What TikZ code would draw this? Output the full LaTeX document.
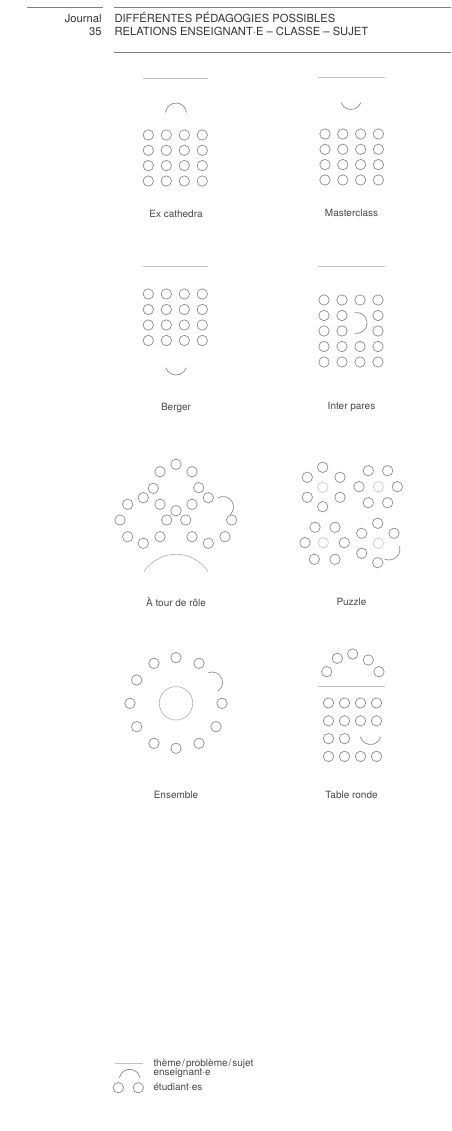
\documentclass[tikz,border=0pt]{standalone}
\usepackage{fontspec}
\setmainfont{TeX Gyre Heros}
\tikzset{
  stu/.style={draw=black!45, line width=0.7pt},
  stulight/.style={draw=black!20, line width=0.7pt},
  tch/.style={draw=black!45, line width=0.7pt},
  big/.style={draw=black!28, line width=0.7pt},
  topic/.style={draw=black!25, line width=0.8pt},
  rule/.style={draw=black!50, line width=0.6pt},
  lbl/.style={font=\fontsize{10}{12}\selectfont, text=black!72, inner sep=0pt},
  hdr/.style={font=\fontsize{11.2}{13}\selectfont, text=black!80, inner sep=0pt},
}
\newcommand\stud[3][stu]{\draw[#1] (#2,-#3) circle[radius=5.2];}
\newcommand\tarc[6][tch]{\draw[#1] ({#2+#4*cos(#5)},{-#3+#4*sin(#5)}) arc[start angle=#5,end angle=#6,radius=#4];}
\begin{document}
\begin{tikzpicture}[x=1pt,y=1pt]
\useasboundingbox (0,0) rectangle (451,-1131);
\fill[white] (0,0) rectangle (451,-1131);
% header
\draw[rule] (27,-7) -- (103,-7);
\draw[rule] (114,-7) -- (451,-7);
\draw[rule] (114,-52) -- (451,-52);
\node[hdr, anchor=base east] (jr) at (101.7,-22.3) {Journal};
\node[hdr, anchor=base east] (num) at (101.7,-35.7) {35};
\node[hdr, anchor=base west] (t1) at (114.3,-22.3) {DIFFÉRENTES PÉDAGOGIES POSSIBLES};
\node[hdr, anchor=base west] (t2) at (114.3,-35.7) {RELATIONS ENSEIGNANT·E – CLASSE – SUJET};
% Ex cathedra
\draw[topic] (143,-78) -- (208,-78);
\tarc{176}{113.5}{10.5}{175}{5}
\foreach \x in {148.3,166.3,184.3,202.3} {\foreach \y in {135,150.3,165.6,181} {\stud{\x}{\y}}}
\node[lbl] (l1) at (176,-214) {Ex cathedra};
% Masterclass
\draw[topic] (318,-77) -- (385,-77);
\tarc{351}{99}{10.5}{200}{340}
\foreach \x in {325,342.8,360.6,378.4} {\foreach \y in {134,149.3,164.6,180} {\stud{\x}{\y}}}
\node[lbl] (l2) at (351.5,-213) {Masterclass};
% Berger
\draw[topic] (143,-266) -- (208,-266);
\foreach \x in {148.3,166.3,184.3,202.3} {\foreach \y in {294,309.5,325,340.5} {\stud{\x}{\y}}}
\tarc{176}{364}{11}{200}{340}
\node[lbl] (l3) at (176,-408) {Berger};
% Inter pares
\draw[topic] (318,-266) -- (385,-266);
\foreach \x in {324,342,360,378} {\foreach \y in {300,346.5,362} {\stud{\x}{\y}}}
\foreach \x in {324,342,378} {\foreach \y in {315.5,331} {\stud{\x}{\y}}}
\tarc{356.5}{323}{10.5}{100}{-100}
\node[lbl] (l4) at (351.5,-407) {Inter pares};
% A tour de role
\foreach \a/\b in {176/464.3,160/471.7,192/471.7,153.3/488.3,198.7/487.7,
  143.3/497.7,208.3/497.7,127.7/504.3,160/504.3,192/504.3,176/510.7,
  166.7/520,185.7/520,120/520,231.7/520,127.7/536.7,143.3/543.3,
  160/536.7,192/536.7,208.3/543.3,225/536.7} {\stud{\a}{\b}}
\tarc{223}{507}{10.5}{120}{-45}
\tarc[big]{176}{592.6}{38.3}{146.7}{33.3}
\node[lbl] (l5) at (176,-601.7) {À tour de rôle};
% Puzzle
\foreach \a/\b in {322.7/467.3,307.3/477.3,340/477.3,307.3/497.3,340/497.3,322.7/506.7,
  368.3/470.7,387.7/470.7,359/486.7,397.3/486.7,368.3/502.7,387.7/502.7,
  315/527.3,335/527.3,305/542.7,344.3/542.7,314.3/559.3,335/559.3,
  377.7/523.3,361.7/533.3,394/533.3,361.7/553.3,377.7/562.7} {\stud{\a}{\b}}
\foreach \a/\b in {322.7/487.3,378.3/486.7,323.3/542.7,378.3/543.3} {\stud[stulight]{\a}{\b}}
\tarc{389}{549}{11}{15}{-115}
\node[lbl] (l6) at (351.5,-601.7) {Puzzle};
% Ensemble
\foreach \a/\b in {176/657.7,154/663.3,199/663.3,136.7/680,130/703.3,222/703.3,
  136.7/726.7,216/726.7,154/743.3,176/748.3,199/743.3} {\stud{\a}{\b}}
\tarc{212}{682.5}{10.5}{110}{-55}
\draw[big] (176,-703.3) circle[radius=16.7];
\node[lbl] (l7) at (176,-795) {Ensemble};
% Table ronde
\foreach \a/\b in {326.7/671.7,337.3/658.3,352.7/654,368.3/660,379/671.7} {\stud{\a}{\b}}
\draw[topic] (318.3,-686) -- (385,-686);
\foreach \x in {328.5,344.5,360.5,376.5} {\foreach \y in {703,720.8,756.4} {\stud{\x}{\y}}}
\foreach \x in {328.5,344.5} {\stud{\x}{738.6}}
\tarc{370.5}{734}{10.5}{195}{345}
\node[lbl] (l8) at (351.5,-795) {Table ronde};
% Legend
\draw[topic] (115,-1063.3) -- (143.3,-1063.3);
\tarc{129.7}{1079.8}{10.5}{170}{10}
\stud{118.3}{1087.7}
\stud{138.3}{1087.7}
\node[lbl, anchor=base west] (g1) at (153.3,-1066.7) {thème\kern1pt/\kern1pt problème\kern1pt/\kern1pt sujet};
\node[lbl, anchor=base west] (g2) at (153.3,-1075.7) {enseignant·e};
\node[lbl, anchor=base west] (g3) at (153.3,-1090) {étudiant·es};
\end{tikzpicture}
\end{document}
